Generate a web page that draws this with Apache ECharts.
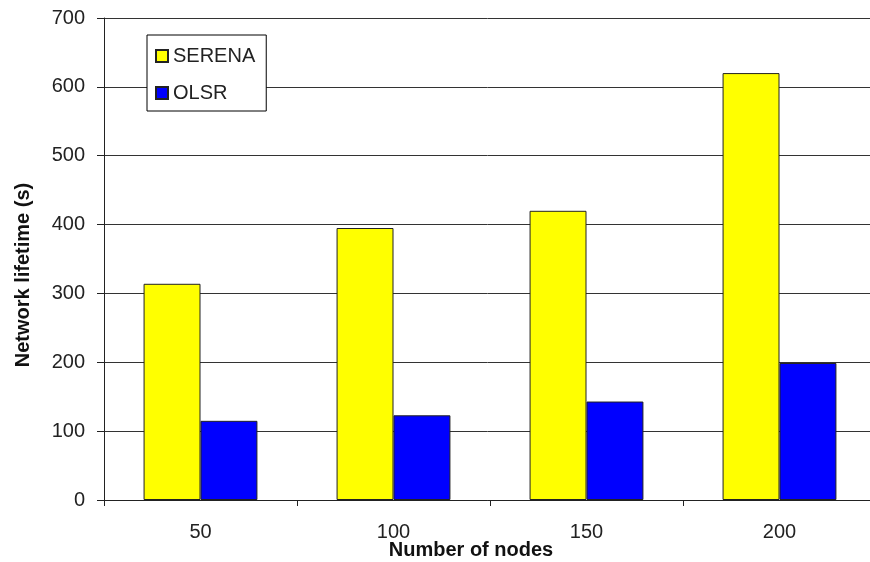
<!DOCTYPE html>
<html>
<head>
<meta charset="utf-8">
<script src="https://cdn.jsdelivr.net/npm/echarts@6/dist/echarts.min.js"></script>
<style>
html,body{margin:0;padding:0;background:#fff;}
#chart{width:870px;height:562px;}
</style>
</head>
<body>
<div id="chart"></div>
<script>
const categories = ['50', '100', '150', '200'];
const serena = [314, 395, 420, 620];
const olsr = [115, 123, 143, 199];
const yTicks = [0, 100, 200, 300, 400, 500, 600, 700];

const FONT = '"Liberation Sans", Arial, sans-serif';
const chart = echarts.init(document.getElementById('chart'));
chart.setOption({
  animation: false,
  backgroundColor: '#fff',
  textStyle: { fontFamily: FONT },
  grid: { left: 104, top: 18, width: 772, height: 482, containLabel: false, outerBoundsMode: 'none' },
  legend: {
    orient: 'vertical',
    left: 147,
    top: 35,
    padding: [11, 11, 8, 8],
    itemWidth: 12,
    itemHeight: 12,
    itemGap: 17,
    icon: 'rect',
    backgroundColor: '#fff',
    borderColor: '#000',
    borderWidth: 1,
    textStyle: { fontFamily: FONT, fontSize: 20, color: '#222', width: 100, padding: [0, 0, 0, 0] },
    data: ['SERENA', 'OLSR']
  },
  xAxis: {
    type: 'category',
    data: categories,
    name: 'Number of nodes',
    nameLocation: 'middle',
    nameGap: 40,
    nameMoveOverlap: false,
    nameTextStyle: { fontFamily: FONT, fontSize: 20, fontWeight: 'bold', color: '#111', padding: [0, 38, 0, 0] },
    axisLine: { lineStyle: { color: '#222', width: 1 } },
    axisTick: { show: true, length: 6, lineStyle: { color: '#222' } },
    axisLabel: { fontFamily: FONT, fontSize: 20, color: '#222', margin: 22 },
    splitLine: { show: false }
  },
  yAxis: {
    type: 'value',
    min: yTicks[0],
    max: yTicks[yTicks.length - 1],
    interval: 100,
    name: 'Network lifetime (s)',
    nameLocation: 'middle',
    nameGap: 71,
    nameMoveOverlap: false,
    nameTextStyle: { fontFamily: FONT, fontSize: 20, fontWeight: 'bold', color: '#111', padding: [0, 32, 0, 0] },
    axisLine: { show: true, lineStyle: { color: '#222', width: 1 } },
    axisTick: { show: true, length: 7, lineStyle: { color: '#222' } },
    axisLabel: { fontFamily: FONT, fontSize: 20, color: '#222', margin: 19 },
    splitLine: { show: true, lineStyle: { color: '#333', width: 1 } }
  },
  series: [
    {
      name: 'SERENA', type: 'bar', data: serena,
      barGap: '0%', barCategoryGap: '41%',
      itemStyle: { color: '#FFFF00', borderColor: '#222', borderWidth: 1 }
    },
    {
      name: 'OLSR', type: 'bar', data: olsr,
      barGap: '0%', barCategoryGap: '41%',
      itemStyle: { color: '#0000FF', borderColor: '#222', borderWidth: 1 }
    }
  ]
});
</script>
</body>
</html>
